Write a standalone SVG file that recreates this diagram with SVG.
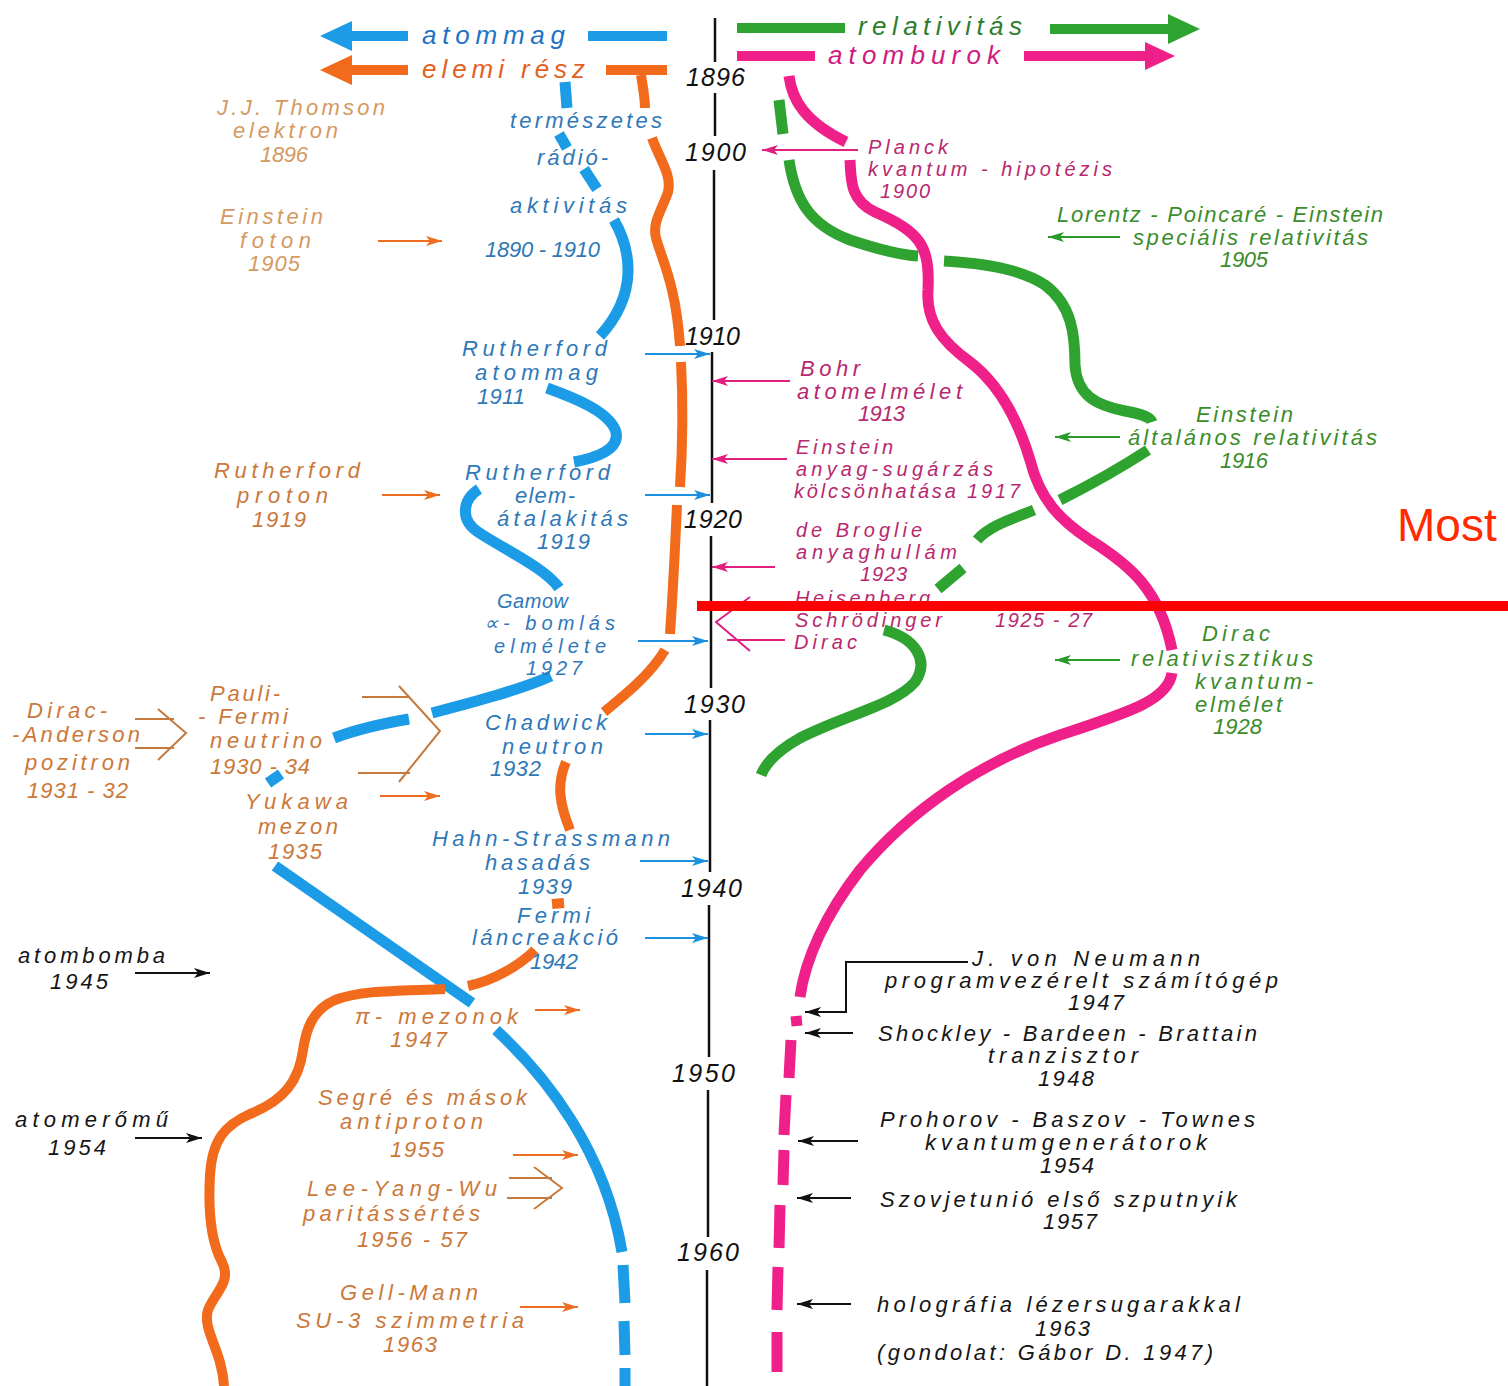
<svg xmlns="http://www.w3.org/2000/svg" width="1508" height="1386" viewBox="0 0 1508 1386">
<style>
text{font-family:"Liberation Sans",Arial,sans-serif;font-style:italic}
.l{font-size:22px}
.s{font-size:20px}
.h{font-size:26px}
.y{font-size:25px;fill:#111}
.or{fill:#cb783a}
.orf{fill:#d49a62}
.bl{fill:#2f78b8}
.pk{fill:#b8286e}
.gr{fill:#3b8c2a}
.bk{fill:#151515}
.sb{fill:none;stroke:#1c9be6;stroke-width:11}
.so{fill:none;stroke:#f26a1b;stroke-width:10}
.sp{fill:none;stroke:#f0208a;stroke-width:11}
.sg{fill:none;stroke:#2fa32f;stroke-width:11}
.ab{stroke:#1b8fe0;stroke-width:2;fill:none;marker-end:url(#mb)}
.ao{stroke:#ef6d20;stroke-width:2;fill:none;marker-end:url(#mo)}
.ap{stroke:#e0207f;stroke-width:2;fill:none;marker-end:url(#mp)}
.ag{stroke:#2b9a2b;stroke-width:2;fill:none;marker-end:url(#mg)}
.ak{stroke:#111;stroke-width:2;fill:none;marker-end:url(#mk)}
.ch{stroke:#c47a3e;stroke-width:2;fill:none}
.tl{stroke:#111;stroke-width:2.5}
</style>
<defs>
<marker id="mb" markerUnits="userSpaceOnUse" markerWidth="18" markerHeight="10" refX="16" refY="5" orient="auto"><path d="M0,0 L16,5 L0,10 L4,5 Z" fill="#1b8fe0"/></marker>
<marker id="mo" markerUnits="userSpaceOnUse" markerWidth="18" markerHeight="10" refX="16" refY="5" orient="auto"><path d="M0,0 L16,5 L0,10 L4,5 Z" fill="#ef6d20"/></marker>
<marker id="mp" markerUnits="userSpaceOnUse" markerWidth="18" markerHeight="10" refX="16" refY="5" orient="auto"><path d="M0,0 L16,5 L0,10 L4,5 Z" fill="#e0207f"/></marker>
<marker id="mg" markerUnits="userSpaceOnUse" markerWidth="18" markerHeight="10" refX="16" refY="5" orient="auto"><path d="M0,0 L16,5 L0,10 L4,5 Z" fill="#2b9a2b"/></marker>
<marker id="mk" markerUnits="userSpaceOnUse" markerWidth="18" markerHeight="10" refX="16" refY="5" orient="auto"><path d="M0,0 L16,5 L0,10 L4,5 Z" fill="#111"/></marker>
</defs>
<rect width="1508" height="1386" fill="#fff"/>

<!-- header -->
<g id="header">
  <path d="M320,36 L352,21 L352,31 L408,31 L408,41 L352,41 L352,51 Z" fill="#1c9be6"/>
  <rect x="588" y="31" width="79" height="10" fill="#1c9be6"/>
  <text class="h" x="422" y="44" textLength="143" fill="#1f73c4">atommag</text>
  <path d="M320,70 L352,55 L352,65 L408,65 L408,75 L352,75 L352,85 Z" fill="#f26a1b"/>
  <rect x="606" y="65" width="61" height="10" fill="#f26a1b"/>
  <text class="h" x="422" y="78" textLength="163" fill="#e0621e">elemi rész</text>
  <rect x="737" y="23" width="108" height="10" fill="#2fa32f"/>
  <path d="M1050,24 L1168,24 L1168,14 L1200,29 L1168,44 L1168,34 L1050,34 Z" fill="#2fa32f"/>
  <text class="h" x="858" y="35" textLength="164" fill="#2e7d2e">relativitás</text>
  <rect x="737" y="51" width="78" height="10" fill="#f0208a"/>
  <path d="M1024,51 L1145,51 L1145,42 L1175,56 L1145,70 L1145,61 L1024,61 Z" fill="#f0208a"/>
  <text class="h" x="828" y="64" textLength="172" fill="#d01a7e">atomburok</text>
</g>

<!-- timeline -->
<g id="timeline">
  <line class="tl" x1="715" y1="18" x2="715" y2="62"/>
  <line class="tl" x1="715" y1="93" x2="715" y2="136"/>
  <line class="tl" x1="714" y1="170" x2="714" y2="320"/>
  <line class="tl" x1="712" y1="352" x2="712" y2="503"/>
  <line class="tl" x1="711" y1="536" x2="711" y2="688"/>
  <line class="tl" x1="710" y1="720" x2="710" y2="872"/>
  <line class="tl" x1="709" y1="905" x2="709" y2="1057"/>
  <line class="tl" x1="708" y1="1090" x2="708" y2="1237"/>
  <line class="tl" x1="707" y1="1270" x2="707" y2="1386"/>
  <text class="y" x="686" y="86" textLength="59">1896</text>
  <text class="y" x="685" y="161" textLength="61">1900</text>
  <text class="y" x="685" y="345" textLength="55">1910</text>
  <text class="y" x="684" y="528" textLength="58">1920</text>
  <text class="y" x="684" y="713" textLength="61">1930</text>
  <text class="y" x="681" y="897" textLength="61">1940</text>
  <text class="y" x="672" y="1082" textLength="63">1950</text>
  <text class="y" x="677" y="1261" textLength="62">1960</text>
</g>

<!-- streams -->
<g id="stream-atommag">
  <path class="sb" d="M565,82 L567,108"/>
  <path class="sb" d="M559,134 L567,148"/>
  <path class="sb" d="M584,169 L597,189"/>
  <path class="sb" d="M614,220 C630,248 640,292 600,336"/>
  <path class="sb" d="M547,388 C575,398 610,412 616,432 C620,450 595,458 574,462"/>
  <path class="sb" d="M479,489 C462,500 460,520 478,532 C505,550 545,568 559,588"/>
  <path class="sb" d="M551,676 C520,690 470,703 432,713"/>
  <path class="sb" d="M409,719 C380,724 355,730 334,738"/>
  <path class="sb" d="M268,783 L281,774"/>
  <path class="sb" d="M275,866 L472,1003"/>
  <path class="sb" d="M496,1030 C545,1075 605,1150 622,1252"/>
  <path class="sb" d="M623,1265 L625,1303 M624,1321 L625,1355 M625,1368 L625,1386"/>
</g>
<g id="stream-elemi">
  <path class="so" d="M641,75 C643,88 645,98 645,108"/>
  <path class="so" d="M652,138 C660,160 672,175 668,192 C662,210 652,222 656,238 C662,260 676,285 680,346"/>
  <path class="so" d="M681,362 C683,400 683,440 680,487"/>
  <path class="so" d="M677,505 C675,550 673,590 670,634"/>
  <path class="so" d="M665,650 C650,675 625,695 604,712"/>
  <path class="so" d="M566,762 C556,785 560,805 570,830"/>
  <path class="so" d="M552,904 L564,903"/>
  <path class="so" d="M535,950 C520,965 495,980 468,986"/>
  <path class="so" d="M445,989 C400,991 360,990 335,1000 C312,1010 306,1030 303,1050 C299,1080 285,1100 250,1114 C225,1125 212,1140 210,1175 C208,1210 210,1240 222,1262 C232,1282 215,1292 208,1310 C202,1330 222,1350 224,1386"/>
</g>
<g id="stream-atomburok">
  <path class="sp" d="M789,76 C792,100 805,122 846,142"/>
  <path class="sp" d="M850,160 C851,180 850,200 875,212 C920,232 930,245 928,290 C926,320 940,340 970,362 C1000,385 1018,420 1030,460 C1040,500 1060,520 1090,540 C1130,565 1160,590 1172,650"/>
  <path class="sp" d="M1172,673 C1168,700 1130,712 1060,735 C980,762 910,810 860,870 C825,915 805,960 800,997"/>
  <path class="sp" d="M796,1016 L797,1026 M791,1040 L789,1078 M786,1095 L784,1135 M784,1150 L783,1185 M780,1205 L779,1248 M778,1267 L777,1310 M777,1332 L777,1372"/>
</g>
<g id="stream-relativitas">
  <path class="sg" d="M779,100 L783,134"/>
  <path class="sg" d="M789,160 C795,200 810,225 850,240 C880,250 900,255 918,256"/>
  <path class="sg" d="M944,261 C980,263 1020,268 1045,285 C1072,305 1075,335 1075,365 C1077,395 1095,405 1125,411 C1140,414 1150,416 1152,422"/>
  <path class="sg" d="M1148,450 C1125,465 1090,485 1060,500"/>
  <path class="sg" d="M1034,510 C1015,518 990,525 977,540"/>
  <path class="sg" d="M963,568 L938,589"/>
  <path class="sg" d="M884,630 C915,638 930,660 915,682 C895,705 845,715 800,738 C775,752 765,765 761,775"/>
</g>

<!-- connectors -->
<g id="connectors">
  <line class="ab" x1="645" y1="354" x2="710" y2="354"/>
  <line class="ab" x1="645" y1="495" x2="710" y2="495"/>
  <line class="ab" x1="638" y1="641" x2="708" y2="641"/>
  <line class="ab" x1="645" y1="734" x2="708" y2="734"/>
  <line class="ab" x1="640" y1="861" x2="708" y2="861"/>
  <line class="ab" x1="645" y1="938" x2="708" y2="938"/>
  <line class="ao" x1="378" y1="241" x2="442" y2="241"/>
  <line class="ao" x1="382" y1="495" x2="440" y2="495"/>
  <line class="ao" x1="380" y1="796" x2="440" y2="796"/>
  <line class="ao" x1="535" y1="1010" x2="580" y2="1010"/>
  <line class="ao" x1="513" y1="1155" x2="578" y2="1155"/>
  <line class="ao" x1="520" y1="1307" x2="578" y2="1307"/>
  <path class="ch" d="M135,719 L174,719 M135,748 L174,748 M158,709 L186,733 L158,760"/>
  <path class="ch" d="M362,697 L410,697 M358,773 L410,773 M399,686 L440,731 L399,782"/>
  <path class="ch" d="M509,1178 L552,1178 M507,1198 L552,1198 M534,1167 L562,1188 L534,1209"/>
  <line class="ap" x1="858" y1="150" x2="762" y2="150"/>
  <line class="ap" x1="790" y1="381" x2="712" y2="381"/>
  <line class="ap" x1="787" y1="459" x2="712" y2="459"/>
  <line class="ap" x1="775" y1="567" x2="712" y2="567"/>
  <path d="M750,597 L716,622 L750,651 M727,640 L785,640" stroke="#e0207f" stroke-width="2" fill="none"/>
  <line class="ag" x1="1120" y1="237" x2="1048" y2="237"/>
  <line class="ag" x1="1120" y1="437" x2="1055" y2="437"/>
  <line class="ag" x1="1120" y1="660" x2="1055" y2="660"/>
  <line class="ak" x1="135" y1="973" x2="210" y2="973"/>
  <line class="ak" x1="135" y1="1138" x2="202" y2="1138"/>
  <polyline class="ak" points="968,962 846,962 846,1012 805,1012"/>
  <line class="ak" x1="853" y1="1033" x2="805" y2="1033"/>
  <line class="ak" x1="858" y1="1141" x2="798" y2="1141"/>
  <line class="ak" x1="851" y1="1198" x2="797" y2="1198"/>
  <line class="ak" x1="851" y1="1304" x2="797" y2="1304"/>
</g>

<!-- left orange labels -->
<g id="n-thomson" class="l orf"><text x="217" y="115" textLength="168">J.J. Thomson</text><text x="233" y="138" textLength="105">elektron</text><text x="260" y="162" textLength="48">1896</text></g>
<g id="n-foton" class="l orf"><text x="220" y="224" textLength="103">Einstein</text><text x="240" y="248" textLength="71">foton</text><text x="248" y="271" textLength="52">1905</text></g>
<g id="n-proton" class="l or"><text x="214" y="478" textLength="146">Rutherford</text><text x="237" y="503" textLength="91">proton</text><text x="252" y="527" textLength="54">1919</text></g>
<g id="n-pozitron" class="l or"><text x="27" y="718" textLength="80">Dirac-</text><text x="12" y="742" textLength="128">-Anderson</text><text x="25" y="770" textLength="105">pozitron</text><text x="27" y="798" textLength="101">1931 - 32</text></g>
<g id="n-neutrino" class="l or"><text x="210" y="701" textLength="70">Pauli-</text><text x="198" y="724" textLength="90">- Fermi</text><text x="210" y="748" textLength="112">neutrino</text><text x="210" y="774" textLength="100">1930 - 34</text></g>
<g id="n-yukawa" class="l or"><text x="245" y="809" textLength="103">Yukawa</text><text x="258" y="834" textLength="80">mezon</text><text x="268" y="859" textLength="54">1935</text></g>
<g id="n-pimezon" class="l or"><text x="355" y="1024" textLength="163">π- mezonok</text><text x="390" y="1047" textLength="57">1947</text></g>
<g id="n-antiproton" class="l or"><text x="318" y="1105" textLength="209">Segré és mások</text><text x="340" y="1129" textLength="143">antiproton</text><text x="390" y="1157" textLength="54">1955</text></g>
<g id="n-paritas" class="l or"><text x="307" y="1196" textLength="190">Lee-Yang-Wu</text><text x="303" y="1221" textLength="177">paritássértés</text><text x="357" y="1247" textLength="110">1956 - 57</text></g>
<g id="n-gellmann" class="l or"><text x="340" y="1300" textLength="138">Gell-Mann</text><text x="296" y="1328" textLength="228">SU-3 szimmetria</text><text x="383" y="1352" textLength="54">1963</text></g>

<!-- left black labels -->
<g id="n-atombomba" class="l bk"><text x="18" y="963" textLength="147">atombomba</text><text x="50" y="989" textLength="58">1945</text></g>
<g id="n-atomeromu" class="l bk"><text x="15" y="1127" textLength="153">atomerőmű</text><text x="48" y="1155" textLength="58">1954</text></g>

<!-- blue labels -->
<g id="n-radioaktivitas" class="l bl"><text x="510" y="128" textLength="152">természetes</text><text x="537" y="165" textLength="71">rádió-</text><text x="510" y="213" textLength="117">aktivitás</text><text x="485" y="257" textLength="115">1890 - 1910</text></g>
<g id="n-atommag" class="l bl"><text x="462" y="356" textLength="145">Rutherford</text><text x="475" y="380" textLength="123">atommag</text><text x="477" y="404" textLength="48">1911</text></g>
<g id="n-elematalakitas" class="l bl"><text x="465" y="480" textLength="145">Rutherford</text><text x="515" y="503" textLength="60">elem-</text><text x="497" y="526" textLength="131">átalakitás</text><text x="537" y="549" textLength="53">1919</text></g>
<g id="n-gamow" class="s bl"><text x="497" y="608" textLength="71">Gamow</text><text x="484" y="630" textLength="131">∝- bomlás</text><text x="494" y="653" textLength="112">elmélete</text><text x="526" y="675" textLength="56">1927</text></g>
<g id="n-chadwick" class="l bl"><text x="485" y="730" textLength="122">Chadwick</text><text x="502" y="754" textLength="101">neutron</text><text x="490" y="776" textLength="51">1932</text></g>
<g id="n-hahn" class="l bl"><text x="432" y="846" textLength="238">Hahn-Strassmann</text><text x="485" y="870" textLength="105">hasadás</text><text x="518" y="894" textLength="54">1939</text></g>
<g id="n-fermi" class="l bl"><text x="517" y="923" textLength="73">Fermi</text><text x="472" y="945" textLength="146">láncreakció</text><text x="530" y="969" textLength="48">1942</text></g>

<!-- pink labels -->
<g id="n-planck" class="s pk"><text x="868" y="154" textLength="80">Planck</text><text x="868" y="176" textLength="244">kvantum - hipotézis</text><text x="880" y="198" textLength="50">1900</text></g>
<g id="n-bohr" class="l pk"><text x="800" y="376" textLength="60">Bohr</text><text x="797" y="399" textLength="165">atomelmélet</text><text x="858" y="421" textLength="47">1913</text></g>
<g id="n-anyagsugarzas" class="s pk"><text x="796" y="454" textLength="97">Einstein</text><text x="796" y="476" textLength="197">anyag-sugárzás</text><text x="794" y="498" textLength="226">kölcsönhatása 1917</text></g>
<g id="n-debroglie" class="s pk"><text x="796" y="537" textLength="126">de Broglie</text><text x="796" y="559" textLength="161">anyaghullám</text><text x="860" y="581" textLength="47">1923</text></g>
<g id="n-heisenberg" class="s pk"><text x="795" y="605" textLength="135">Heisenberg</text><text x="795" y="627" textLength="147">Schrödinger</text><text x="794" y="649" textLength="63">Dirac</text><text x="995" y="627" textLength="97">1925 - 27</text></g>

<!-- green labels -->
<g id="n-specrel" class="l gr"><text x="1057" y="222" textLength="326">Lorentz - Poincaré - Einstein</text><text x="1133" y="245" textLength="235">speciális relativitás</text><text x="1220" y="267" textLength="48">1905</text></g>
<g id="n-altrel" class="l gr"><text x="1196" y="422" textLength="97">Einstein</text><text x="1128" y="445" textLength="249">általános relativitás</text><text x="1220" y="468" textLength="48">1916</text></g>
<g id="n-dirac" class="l gr"><text x="1202" y="641" textLength="68">Dirac</text><text x="1131" y="666" textLength="182">relativisztikus</text><text x="1195" y="689" textLength="118">kvantum-</text><text x="1195" y="712" textLength="87">elmélet</text><text x="1213" y="734" textLength="49">1928</text></g>

<!-- right black labels -->
<g id="n-neumann" class="l bk"><text x="972" y="966" textLength="228">J. von Neumann</text><text x="885" y="988" textLength="393">programvezérelt számítógép</text><text x="1068" y="1010" textLength="56">1947</text></g>
<g id="n-tranzisztor" class="l bk"><text x="878" y="1041" textLength="379">Shockley - Bardeen - Brattain</text><text x="988" y="1063" textLength="150">tranzisztor</text><text x="1038" y="1086" textLength="56">1948</text></g>
<g id="n-maser" class="l bk"><text x="880" y="1127" textLength="375">Prohorov - Baszov - Townes</text><text x="925" y="1150" textLength="282">kvantumgenerátorok</text><text x="1040" y="1173" textLength="54">1954</text></g>
<g id="n-szputnyik" class="l bk"><text x="880" y="1207" textLength="357">Szovjetunió első szputnyik</text><text x="1043" y="1229" textLength="54">1957</text></g>
<g id="n-holografia" class="l bk"><text x="877" y="1312" textLength="363">holográfia lézersugarakkal</text><text x="1035" y="1336" textLength="55">1963</text><text x="877" y="1360" textLength="336">(gondolat: Gábor D. 1947)</text></g>

<!-- "now" marker -->
<g id="most">
  <rect x="697" y="601" width="811" height="10" fill="#ff0000"/>
  <text x="1397" y="541" font-size="46" fill="#ff2a00" style="font-style:normal">Most</text>
</g>
</svg>
